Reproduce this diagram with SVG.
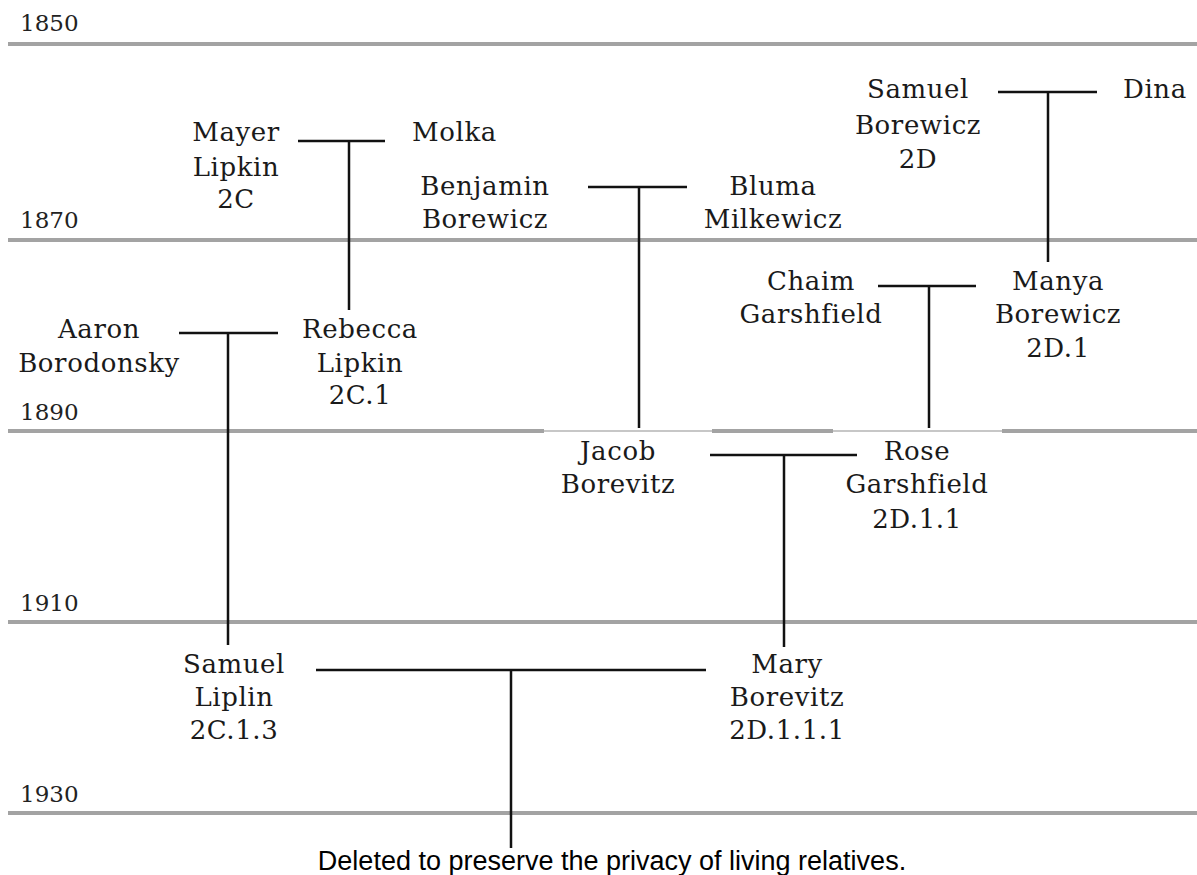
<svg xmlns="http://www.w3.org/2000/svg" width="1197" height="875" viewBox="0 0 1197 875">
<style>
.bg{fill:#ffffff}
.yr{stroke:#a3a3a3;stroke-width:4;fill:none}
.yrthin{stroke:#b5b5b5;stroke-width:1.5;fill:none}
.ylab{font-family:"DejaVu Serif","Liberation Serif",serif;font-size:23px;fill:#222}
.nm{font-family:"DejaVu Serif","Liberation Serif",serif;font-size:26px;letter-spacing:0.6px;fill:#1a1a1a;text-anchor:middle}
.nml{font-family:"DejaVu Serif","Liberation Serif",serif;font-size:26px;letter-spacing:0.6px;fill:#1a1a1a;text-anchor:start}
.cn{stroke:#111;stroke-width:2.5;fill:none}
.cap{font-family:"Liberation Sans",Arial,sans-serif;font-size:27px;fill:#000;text-anchor:middle}
</style>
<rect class="bg" x="0" y="0" width="1197" height="875"/>
<g id="timeline">
<line class="yr" x1="8" y1="44" x2="1197" y2="44"/>
<line class="yr" x1="8" y1="240" x2="1197" y2="240"/>
<line class="yr" x1="8" y1="431" x2="544" y2="431"/>
<line class="yrthin" x1="544" y1="431" x2="712" y2="431"/>
<line class="yr" x1="712" y1="431" x2="833" y2="431"/>
<line class="yrthin" x1="833" y1="431" x2="1002" y2="431"/>
<line class="yr" x1="1002" y1="431" x2="1197" y2="431"/>
<line class="yr" x1="8" y1="622" x2="1197" y2="622"/>
<line class="yr" x1="8" y1="813" x2="1197" y2="813"/>
<text class="ylab" x="20" y="31">1850</text>
<text class="ylab" x="20" y="228">1870</text>
<text class="ylab" x="20" y="420">1890</text>
<text class="ylab" x="20" y="611">1910</text>
<text class="ylab" x="20" y="802">1930</text>
</g>
<g id="connectors">
<path class="cn" d="M298 141 H385 M349 141 V310"/>
<path class="cn" d="M588 187 H687 M639 187 V428"/>
<path class="cn" d="M998 92 H1097 M1048 92 V262"/>
<path class="cn" d="M179 333 H278 M228 333 V645"/>
<path class="cn" d="M878 286 H976 M929 286 V428"/>
<path class="cn" d="M710 455 H857 M784 455 V647"/>
<path class="cn" d="M316 670 H706 M511 670 V848"/>
</g>
<g id="mayer"><text class="nm" x="236" y="141">Mayer</text><text class="nm" x="236" y="176">Lipkin</text><text class="nm" x="236" y="208">2C</text></g>
<g id="molka"><text class="nml" x="412" y="141">Molka</text></g>
<g id="benjamin"><text class="nm" x="485" y="195">Benjamin</text><text class="nm" x="485" y="228">Borewicz</text></g>
<g id="bluma"><text class="nm" x="773" y="195">Bluma</text><text class="nm" x="773" y="228">Milkewicz</text></g>
<g id="samuel-b"><text class="nm" x="918" y="98">Samuel</text><text class="nm" x="918" y="134">Borewicz</text><text class="nm" x="918" y="168">2D</text></g>
<g id="dina"><text class="nml" x="1123" y="98">Dina</text></g>
<g id="chaim"><text class="nm" x="811" y="290">Chaim</text><text class="nm" x="811" y="323">Garshfield</text></g>
<g id="manya"><text class="nm" x="1058" y="290">Manya</text><text class="nm" x="1058" y="323">Borewicz</text><text class="nm" x="1058" y="357">2D.1</text></g>
<g id="aaron"><text class="nm" x="99" y="338">Aaron</text><text class="nm" x="99" y="372">Borodonsky</text></g>
<g id="rebecca"><text class="nm" x="360" y="338">Rebecca</text><text class="nm" x="360" y="372">Lipkin</text><text class="nm" x="360" y="404">2C.1</text></g>
<g id="jacob"><text class="nm" x="618" y="460">Jacob</text><text class="nm" x="618" y="493">Borevitz</text></g>
<g id="rose"><text class="nm" x="917" y="460">Rose</text><text class="nm" x="917" y="493">Garshfield</text><text class="nm" x="917" y="528">2D.1.1</text></g>
<g id="samuel-l"><text class="nm" x="234" y="673">Samuel</text><text class="nm" x="234" y="706">Liplin</text><text class="nm" x="234" y="739">2C.1.3</text></g>
<g id="mary"><text class="nm" x="787" y="673">Mary</text><text class="nm" x="787" y="706">Borevitz</text><text class="nm" x="787" y="739">2D.1.1.1</text></g>
<g id="caption"><text class="cap" x="612" y="870">Deleted to preserve the privacy of living relatives.</text></g>
</svg>
